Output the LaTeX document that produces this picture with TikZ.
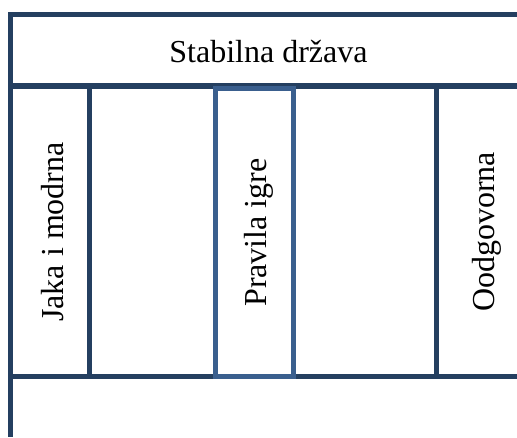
\documentclass[tikz,border=0pt]{standalone}
\usepackage{fontspec}
\setmainfont{Liberation Serif}
\definecolor{navy}{HTML}{243F60}
\definecolor{steel}{HTML}{3A5F8E}
\begin{document}
\begin{tikzpicture}[x=1pt,y=-1pt,
  rule/.style={draw=navy,line width=5.5pt},
  lightrule/.style={draw=steel,line width=5pt},
  label/.style={font=\fontsize{32}{38}\selectfont,inner sep=0pt,anchor=base},
  vlabel/.style={label,rotate=90}]
  \useasboundingbox (0,0) rectangle (517,437);
  % frame and grid lines
  \draw[rule] (8,14.5) -- (517,14.5);
  \draw[rule] (10.5,12) -- (10.5,437);
  \draw[rule] (8,86) -- (517,86);
  \draw[rule] (8,376.5) -- (517,376.5);
  \draw[rule] (89.5,86) -- (89.5,376.5);
  \draw[rule] (436.5,86) -- (436.5,376.5);
  % highlighted middle column
  \draw[lightrule] (215.5,88) rectangle (293.5,376.5);
  % texts
  \node[label] (title) at (268.5,62) {Stabilna država};
  \node[vlabel] (left) at (63,232) {Jaka i modrna};
  \node[vlabel] (mid) at (266,232.5) {Pravila igre};
  \node[vlabel] (right) at (494,232) {Oodgovorna};
\end{tikzpicture}
\end{document}
